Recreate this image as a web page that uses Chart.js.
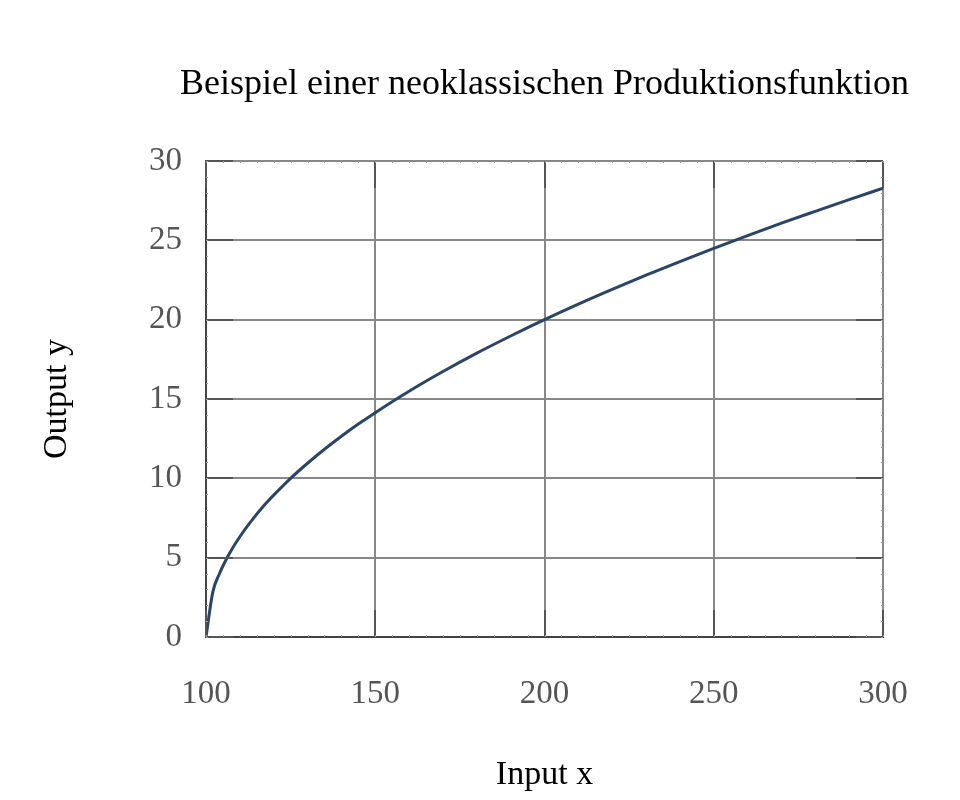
<!DOCTYPE html>
<html>
<head>
<meta charset="utf-8">
<script src="https://cdn.jsdelivr.net/npm/chart.js@4.4.0/dist/chart.umd.min.js"></script>
<style>
html,body{margin:0;padding:0;background:#fff;}
#wrap{width:960px;height:800px;}
</style>
</head>
<body>
<div id="wrap"><canvas id="c" width="960" height="800"></canvas></div>
<script>
const inputX = [100,102,104,106,108,110,112,114,116,118,120,125,130,135,140,145,150,160,170,180,190,200,210,220,230,240,250,260,270,280,290,300];
const outputY = [0,2.83,4.0,4.9,5.66,6.32,6.93,7.48,8.0,8.49,8.94,10.0,10.95,11.83,12.65,13.42,14.14,15.49,16.73,17.89,18.97,20.0,20.98,21.91,22.8,23.66,24.49,25.3,26.08,26.83,27.57,28.28];
const xTicks = [100,150,200,250,300];
const yTicks = [0,5,10,15,20,25,30];
const titleText = 'Beispiel einer neoklassischen Produktionsfunktion';
const xTitle = 'Input x';
const yTitle = 'Output y';

const SERIF = '"Liberation Serif", "DejaVu Serif", serif';

const plotTitle = {
  id: 'plotTitle',
  afterDraw(chart) {
    const {ctx, chartArea: a} = chart;
    ctx.save();
    ctx.font = '36px ' + SERIF;
    ctx.fillStyle = '#000';
    ctx.textAlign = 'center';
    ctx.textBaseline = 'alphabetic';
    ctx.fillText(titleText, (a.left + a.right) / 2, 94);
    ctx.restore();
  }
};

const innerTicks = {
  id: 'innerTicks',
  afterDatasetsDraw(chart) {
    const {ctx, chartArea: a, scales: {x, y}} = chart;
    ctx.save();
    ctx.strokeStyle = '#555';
    ctx.lineWidth = 2;
    const L = 27;
    xTicks.forEach(v => {
      const px = Math.round(x.getPixelForValue(v));
      ctx.beginPath();
      ctx.moveTo(px, a.bottom); ctx.lineTo(px, a.bottom - L);
      ctx.moveTo(px, a.top); ctx.lineTo(px, a.top + L);
      ctx.stroke();
    });
    yTicks.forEach(v => {
      const py = Math.round(y.getPixelForValue(v));
      ctx.beginPath();
      ctx.moveTo(a.left, py); ctx.lineTo(a.left + L, py);
      ctx.moveTo(a.right, py); ctx.lineTo(a.right - L, py);
      ctx.stroke();
    });
    ctx.lineWidth = 1;
    ctx.strokeStyle = '#999';
    for (let v = 100; v <= 300; v += 5) {
      const px = Math.round(x.getPixelForValue(v)) + 0.5;
      ctx.beginPath();
      ctx.moveTo(px, a.bottom); ctx.lineTo(px, a.bottom - 2);
      ctx.moveTo(px, a.top); ctx.lineTo(px, a.top + 2);
      ctx.stroke();
    }
    for (let v = 0; v <= 30; v += 1) {
      const py = Math.round(y.getPixelForValue(v)) + 0.5;
      ctx.beginPath();
      ctx.moveTo(a.left, py); ctx.lineTo(a.left + 2, py);
      ctx.moveTo(a.right, py); ctx.lineTo(a.right - 2, py);
      ctx.stroke();
    }
    ctx.restore();
  }
};

new Chart(document.getElementById('c'), {
  type: 'line',
  data: {
    datasets: [{
      data: inputX.map((v, i) => ({x: v, y: outputY[i]})),
      borderColor: '#2b4566',
      borderWidth: 3,
      pointRadius: 0,
      tension: 0.3,
      cubicInterpolationMode: 'monotone',
      fill: false
    }]
  },
  options: {
    responsive: false,
    animation: false,
    devicePixelRatio: 1,
    layout: {padding: {left: 0, right: 77, top: 161, bottom: 0}},
    plugins: {
      legend: {display: false},
      tooltip: {enabled: false},
      title: {display: false}
    },
    scales: {
      x: {
        type: 'linear',
        min: 100, max: 300,
        afterBuildTicks: s => { s.ticks = xTicks.map(v => ({value: v})); },
        afterFit: s => { s.height = 163; },
        grid: {color: '#888', lineWidth: 2, drawTicks: false},
        border: {color: '#444', width: 2},
        ticks: {color: '#555', font: {family: SERIF, size: 33}, padding: 38, maxRotation: 0},
        title: {display: true, text: xTitle, color: '#000', font: {family: SERIF, size: 34}, padding: {top: 0, bottom: 5}}
      },
      y: {
        type: 'linear',
        min: 0, max: 30,
        afterBuildTicks: s => { s.ticks = yTicks.map(v => ({value: v})); },
        afterFit: s => { s.width = 206; },
        grid: {color: '#888', lineWidth: 2, drawTicks: false},
        border: {color: '#444', width: 2},
        ticks: {color: '#555', font: {family: SERIF, size: 33}, padding: 24},
        title: {display: true, text: yTitle, color: '#000', font: {family: SERIF, size: 34}, padding: {top: 37, bottom: 0}}
      }
    }
  },
  plugins: [innerTicks, plotTitle]
});
</script>
</body>
</html>
